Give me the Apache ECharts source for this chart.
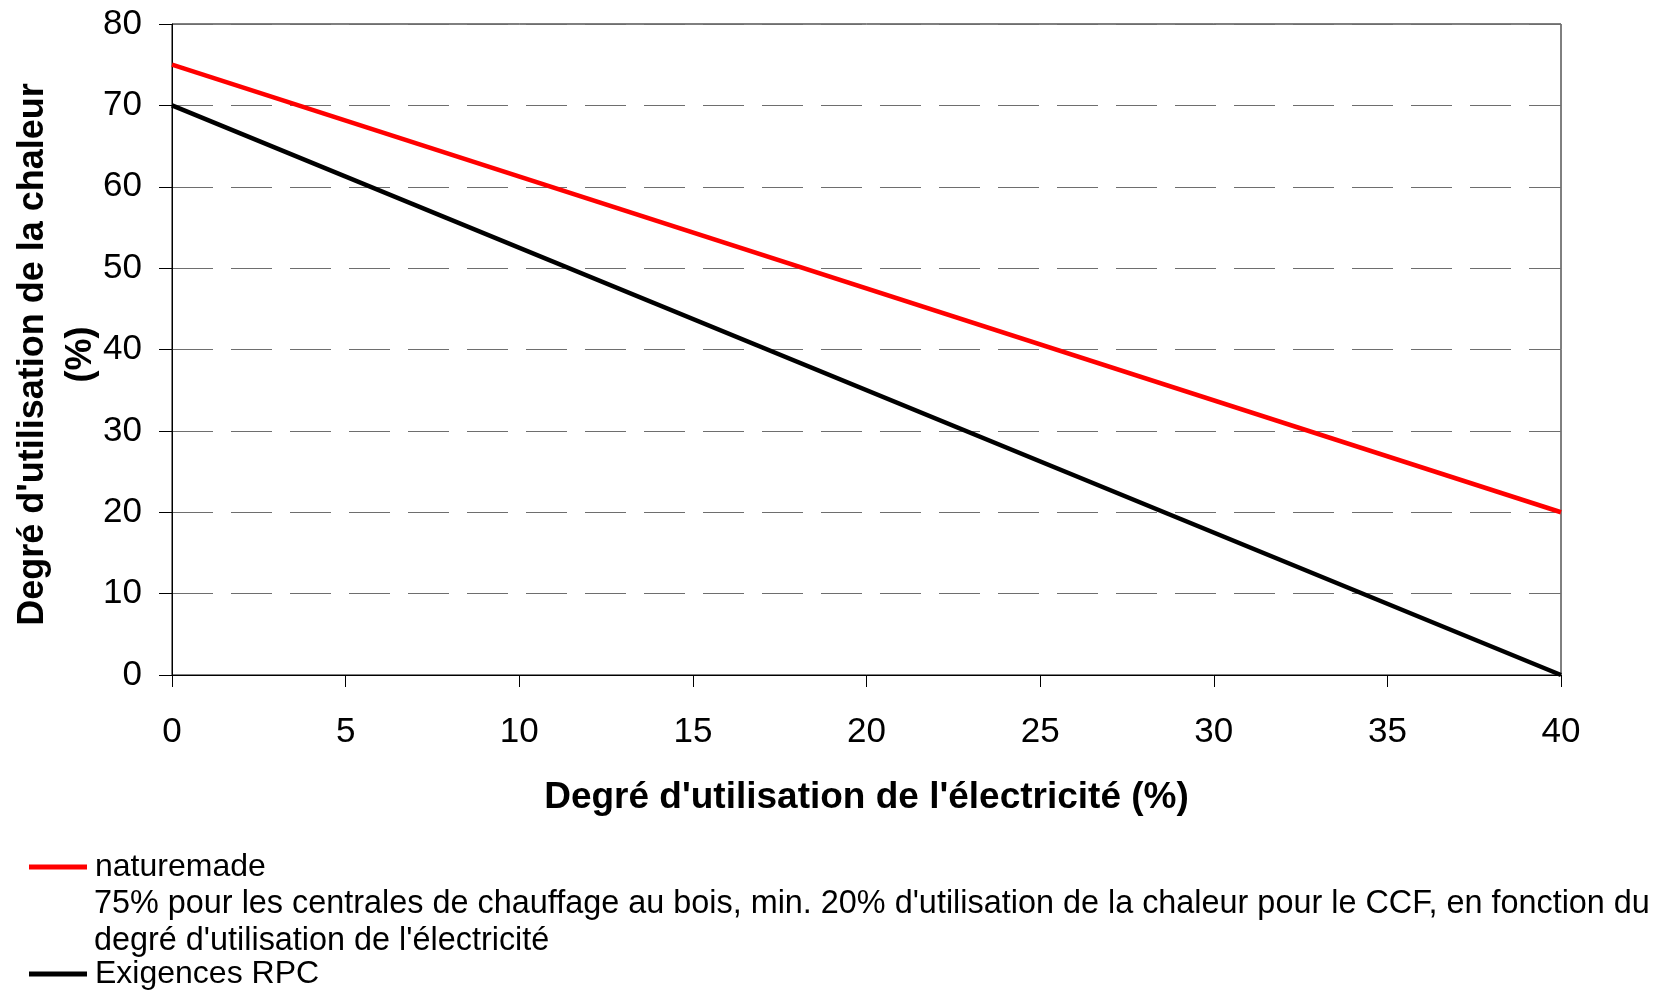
<!DOCTYPE html>
<html>
<head>
<meta charset="utf-8">
<script src="https://cdn.jsdelivr.net/npm/echarts@6/dist/echarts.min.js"></script>
<style>
html, body { margin: 0; padding: 0; background: #fff; }
#main { width: 1654px; height: 991px; }
</style>
</head>
<body>
<div id="main"></div>
<script>
// données
var xNature = [0, 40];
var yNature = [75, 20];
var xRpc = [0, 40];
var yRpc = [70, 0];
var nomNature = 'naturemade';
var nomRpc = 'Exigences RPC';
var noteNature = "75% pour les centrales de chauffage au bois, min. 20% d'utilisation de la chaleur pour le CCF, en fonction du\ndegré d'utilisation de l'électricité";

function paires(xs, ys) {
	var res = [];
	for (var i = 0; i < xs.length; i++) {
		res.push([xs[i], ys[i]]);
	}
	return res;
}

var police = '"Liberation Sans", Arial, sans-serif';
var myChart = echarts.init(document.getElementById('main'));
var option = {
	animation: false,
	textStyle: { fontFamily: police },
	grid: {
		left: 172, right: 93, top: 24, bottom: 316,
		containLabel: false, outerBoundsMode: 'none',
		show: true, borderColor: '#000', borderWidth: 1
	},
	xAxis: {
		type: 'value', min: 0, max: 40, interval: 5,
		name: "Degré d'utilisation de l'électricité (%)",
		nameLocation: 'middle', nameGap: 104, nameMoveOverlap: false,
		nameTextStyle: { fontSize: 37, fontWeight: 'bold', color: '#000', fontFamily: police },
		axisLine: { show: true, lineStyle: { color: '#000', width: 1 } },
		axisTick: { show: true, length: 12, lineStyle: { color: '#000' } },
		axisLabel: { fontSize: 35, color: '#000', margin: 40, fontFamily: police },
		splitLine: { show: false }
	},
	yAxis: {
		type: 'value', min: 0, max: 80, interval: 10,
		name: "Degré d'utilisation de la chaleur\n(%)",
		nameLocation: 'middle', nameGap: 67, nameMoveOverlap: false,
		nameTextStyle: { fontSize: 36, fontWeight: 'bold', color: '#000', lineHeight: 48, align: 'center', fontFamily: police, padding: [0, 10, 0, 0] },
		axisLine: { show: true, lineStyle: { color: '#000', width: 1 } },
		axisTick: { show: true, length: 13, lineStyle: { color: '#000' } },
		axisLabel: { fontSize: 35, color: '#000', margin: 30, fontFamily: police },
		splitLine: { show: true, lineStyle: { color: '#6e6e6e', width: 1, type: [41, 18] } }
	},
	legend: [
		{
			data: [nomNature], left: 24, top: 846, orient: 'vertical',
			itemWidth: 58, itemHeight: 5, icon: 'rect',
			textStyle: { fontSize: 32, color: '#000', fontFamily: police, padding: [0, 0, 0, 3] }
		},
		{
			data: [nomRpc], left: 24, top: 953, orient: 'vertical',
			itemWidth: 58, itemHeight: 5, icon: 'rect',
			textStyle: { fontSize: 32, color: '#000', fontFamily: police, padding: [0, 0, 0, 3] }
		}
	],
	graphic: [
		{
			type: 'text', left: 94, top: 886,
			style: { text: noteNature, fontSize: 32.4, lineHeight: 37, fill: '#000', fontFamily: police }
		}
	],
	series: [
		{
			name: nomNature, type: 'line', data: paires(xNature, yNature),
			symbol: 'none', lineStyle: { color: '#ff0000', width: 4.5 }, itemStyle: { color: '#ff0000' }
		},
		{
			name: nomRpc, type: 'line', data: paires(xRpc, yRpc),
			symbol: 'none', lineStyle: { color: '#000000', width: 4.5 }, itemStyle: { color: '#000000' }
		}
	]
};
myChart.setOption(option);
</script>
</body>
</html>
